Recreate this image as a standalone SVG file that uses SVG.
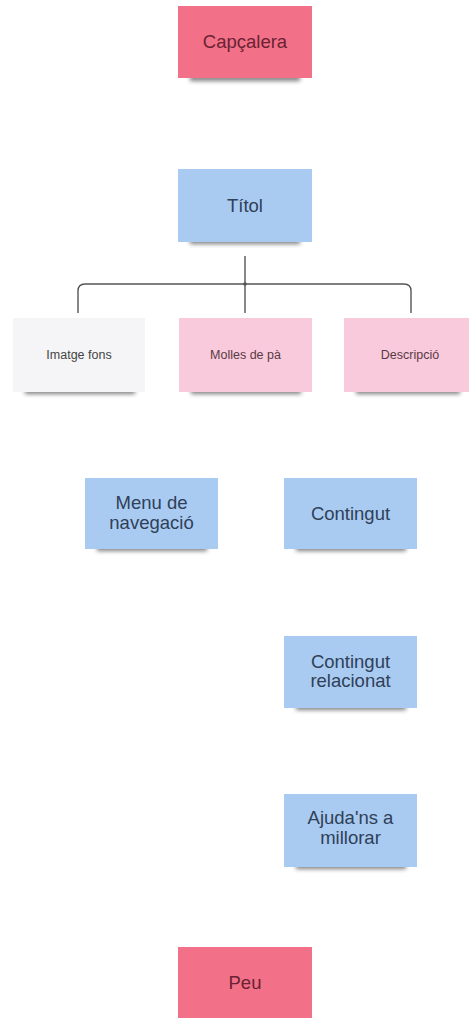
<svg xmlns="http://www.w3.org/2000/svg" width="469" height="1018" viewBox="0 0 469 1018">
<defs>
<filter id="sh" x="-20%" y="-200%" width="140%" height="500%"><feGaussianBlur stdDeviation="2"/></filter>
<style>
.red{fill:#f27189}
.blue{fill:#a9cbf2}
.pink{fill:#f9c9dc}
.white{fill:#f5f5f7}
.shadow{fill:#2a2a2a;opacity:0.6;filter:url(#sh)}
text{font-family:"Liberation Sans",Arial,sans-serif;text-anchor:middle}
.big{font-size:18.5px}
.small{font-size:12.5px}
.tr{fill:#6a2232}
.tb{fill:#2f4057}
.tp{fill:#5a3a44}
.tw{fill:#444}
.conn{fill:none;stroke:#555;stroke-width:1.4}
</style>
</defs>
<rect width="469" height="1018" fill="#ffffff"/>
<g id="connectors">
<path class="conn" d="M245,256 V313"/>
<path class="conn" d="M78,313 V291 Q78,284 85,284 H404 Q411,284 411,291 V313"/>
<circle cx="245" cy="284" r="1.8" fill="#555"/>
</g>
<g id="capcalera">
<rect class="shadow" x="190" y="75" width="110" height="6"/>
<rect class="red" x="178" y="6" width="134" height="72"/>
<text class="big tr" x="245" y="48">Capçalera</text>
</g>
<g id="titol">
<rect class="shadow" x="190" y="238" width="110" height="6"/>
<rect class="blue" x="178" y="169" width="134" height="73"/>
<text class="big tb" x="245" y="212">Títol</text>
</g>
<g id="imatge-fons">
<rect class="shadow" x="25" y="388" width="110" height="6"/>
<rect class="white" x="13" y="318" width="132" height="74"/>
<text class="small tw" x="79" y="359">Imatge fons</text>
</g>
<g id="molles">
<rect class="shadow" x="191" y="388" width="110" height="6"/>
<rect class="pink" x="179" y="318" width="133" height="74"/>
<text class="small tp" x="245.5" y="359">Molles de pà</text>
</g>
<g id="descripcio">
<rect class="shadow" x="356" y="388" width="104" height="6"/>
<rect class="pink" x="344" y="318" width="133" height="74"/>
<text class="small tp" x="410" y="359">Descripció</text>
</g>
<g id="menu">
<rect class="shadow" x="97" y="545" width="110" height="6"/>
<rect class="blue" x="85" y="478" width="133" height="71"/>
<text class="big tb" x="151.5" y="509">Menu de</text>
<text class="big tb" x="151.5" y="529">navegació</text>
</g>
<g id="contingut">
<rect class="shadow" x="296" y="545" width="110" height="6"/>
<rect class="blue" x="284" y="478" width="133" height="71"/>
<text class="big tb" x="350.5" y="520">Contingut</text>
</g>
<g id="contingut-relacionat">
<rect class="shadow" x="296" y="704" width="110" height="6"/>
<rect class="blue" x="284" y="636" width="133" height="72"/>
<text class="big tb" x="350.5" y="668">Contingut</text>
<text class="big tb" x="350.5" y="687">relacionat</text>
</g>
<g id="ajuda">
<rect class="shadow" x="296" y="863" width="110" height="6"/>
<rect class="blue" x="284" y="794" width="133" height="73"/>
<text class="big tb" x="350.5" y="824">Ajuda'ns a</text>
<text class="big tb" x="350.5" y="844">millorar</text>
</g>
<g id="peu">
<rect class="red" x="178" y="947" width="134" height="75"/>
<text class="big tr" x="245" y="989">Peu</text>
</g>
</svg>
